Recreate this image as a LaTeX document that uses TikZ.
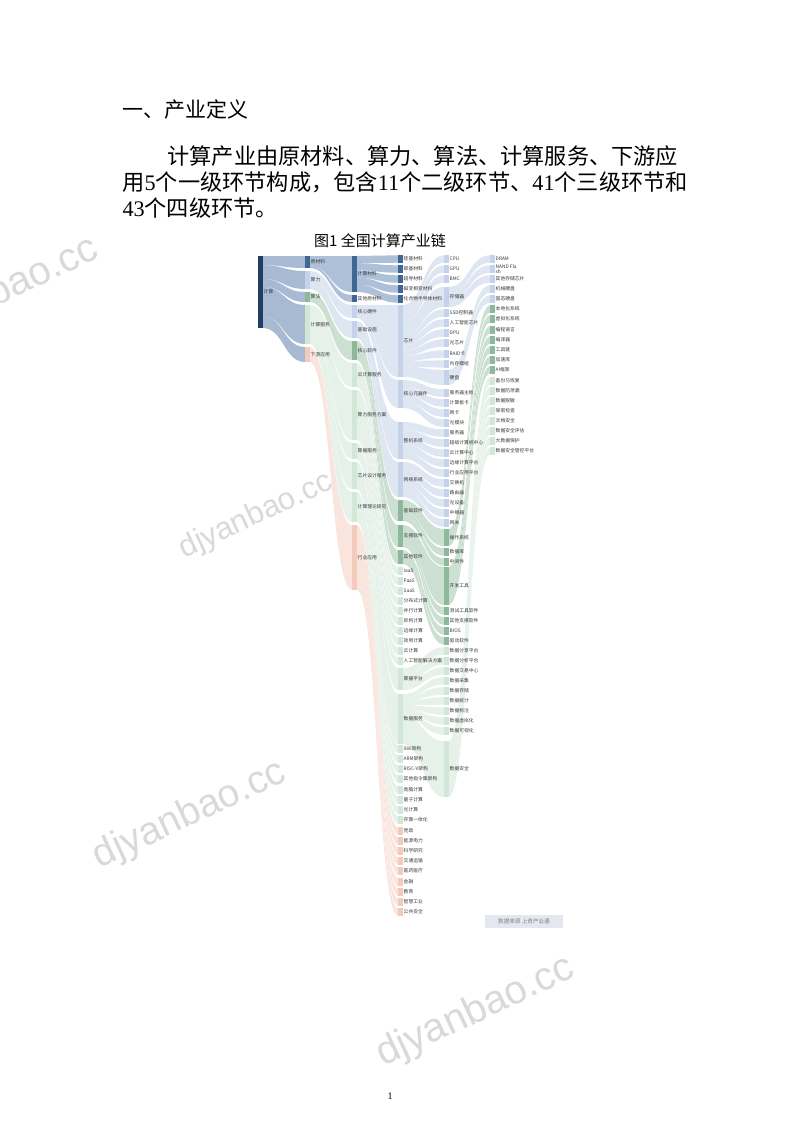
\documentclass[tikz,border=0pt]{standalone}
\usepackage{fontspec}
\setmainfont{Noto Sans CJK SC}
\newfontfamily\tnr{Liberation Serif}
\newfontfamily\wmfont{Liberation Sans}
\usetikzlibrary{positioning}

% node families and their link colours
\definecolor{rt}{HTML}{1F3E66}\definecolor{rtF}{HTML}{8CA3C3}
\definecolor{cl}{HTML}{3F6695}\definecolor{clF}{HTML}{93ABCA}
\definecolor{sl}{HTML}{C4D3E9}\definecolor{slF}{HTML}{D3DEEE}
\definecolor{sf}{HTML}{8DB89B}\definecolor{sfF}{HTML}{BBD6C3}
\definecolor{fw}{HTML}{D3E7D9}\definecolor{fwF}{HTML}{DDEDE2}
\definecolor{xy}{HTML}{F2CBBB}\definecolor{xyF}{HTML}{F7DDD2}
\definecolor{labelgray}{HTML}{3A3A3A}
\definecolor{wmgray}{HTML}{D9D9D9}
\definecolor{srcbg}{HTML}{E3E8F0}

\newcommand\bw{4.5}

% first pass: remember a node
\newcommand\storenode[6]{%
  \expandafter\def\csname NX#1\endcsname{#2}%
  \expandafter\def\csname NT#1\endcsname{#3}%
  \expandafter\def\csname NB#1\endcsname{#4}%
  \expandafter\def\csname NC#1\endcsname{#5}}
% second pass: bar and label
\newcommand\drawnode[6]{%
  \fill[fill=#5] ({#2},{#3}) rectangle ({#2+\bw},{#4});
  \node[lbl] (#1) at ({#2+\bw+0.6},{(#3+#4)/2}) {#6};}
\newcommand\leafnode[5]{\nd{#1}{#2}{(#3-3.7)}{(#3+3.7)}{#4}{#5}}

% links from one parent to its children
\newcommand\flowfan[2]{%
  \gdef\fsum{0}%
  \foreach \kid in {#2}{%
    \edef\kT{\csname NT\kid\endcsname}\edef\kB{\csname NB\kid\endcsname}%
    \pgfmathsetmacro\ftmp{\fsum+(\kB)-(\kT)}%
    \xdef\fsum{\ftmp}}%
  \edef\pX{\csname NX#1\endcsname}\edef\pT{\csname NT#1\endcsname}%
  \edef\pB{\csname NB#1\endcsname}\edef\pF{\csname NC#1\endcsname F}%
  \pgfmathsetmacro\fratio{((\pB)-(\pT))/\fsum}%
  \pgfmathsetmacro\fstart{\pT}%
  \xdef\foff{\fstart}%
  \foreach \kid in {#2}{%
    \edef\kT{\csname NT\kid\endcsname}\edef\kB{\csname NB\kid\endcsname}%
    \edef\kX{\csname NX\kid\endcsname}%
    \pgfmathsetmacro\fend{\foff+((\kB)-(\kT))*\fratio}%
    \pgfmathsetmacro\sX{\pX+\bw}%
    \pgfmathsetmacro\mX{(\sX+\kX)/2}%
    \fill[fill=\pF,link] ({\sX},{\foff}) .. controls ({\mX},{\foff}) and ({\mX},{\kT}) .. ({\kX},{\kT})
      -- ({\kX},{\kB}) .. controls ({\mX},{\kB}) and ({\mX},{\fend}) .. ({\sX},{\fend}) -- cycle;
    \xdef\foff{\fend}}%
}

\newcommand\nodedata{%
  % level 0 and 1
  \nd{js}{258}{256}{328}{rt}{计算}
  \nd{ycl}{305}{256}{268}{cl}{原材料}
  \nd{sl}{305}{271}{289}{sl}{算力}
  \nd{sf}{305}{292}{302}{sf}{算法}
  \nd{jsfw}{305}{305}{344}{fw}{计算服务}
  \nd{xyyy}{305}{347}{362}{xy}{下游应用}
  % level 2
  \nd{jscl}{352}{256}{292}{cl}{计算材料}
  \nd{qtycl}{352}{295}{302}{cl}{其他原材料}
  \nd{hxyj}{352}{305}{318}{sl}{核心硬件}
  \nd{jcss}{352}{321}{338}{sl}{基础设施}
  \nd{hxrj}{352}{341}{360}{sf}{核心软件}
  \nd{yjsfw}{352}{363}{387}{fw}{云计算服务}
  \nd{slfa}{352}{390}{440}{fw}{算力服务方案}
  \nd{sjfw}{352}{443}{459}{fw}{算据服务}
  \nd{xpsj}{352}{462}{489}{fw}{芯片设计服务}
  \nd{llyj}{352}{492}{522}{fw}{计算理论研究}
  \nd{hyyy}{352}{525}{590}{xy}{行业应用}
  % level 3
  \leafnode{gjcl}{398}{259}{cl}{硅基材料}
  \leafnode{tjcl}{398}{269}{cl}{碳基材料}
  \leafnode{cdcl}{398}{279}{cl}{超导材料}
  \leafnode{cbcl}{398}{289}{cl}{磁变相变材料}
  \leafnode{hhcl}{398}{299}{cl}{化合物半导体材料}
  \nd{xp}{398}{305}{377}{sl}{芯片}
  \nd{yqj}{398}{380}{408}{sl}{核心元器件}
  \nd{zjxt}{398}{422}{459}{sl}{整机系统}
  \nd{wlxt}{398}{462}{497}{sl}{网络系统}
  \nd{jcrj}{398}{500}{521}{sf}{基础软件}
  \nd{zcrj}{398}{525}{547}{sf}{支撑软件}
  \nd{qtrj}{398}{550}{564}{sf}{其他软件}
  \leafnode{iaas}{398}{571}{fw}{IaaS}
  \leafnode{paas}{398}{581}{fw}{PaaS}
  \leafnode{saas}{398}{591}{fw}{SaaS}
  \leafnode{fbs}{398}{601}{fw}{分布式计算}
  \leafnode{bx}{398}{611}{fw}{并行计算}
  \leafnode{yg}{398}{621}{fw}{异构计算}
  \leafnode{by}{398}{631}{fw}{边缘计算}
  \leafnode{xyjs}{398}{641}{fw}{效用计算}
  \leafnode{yjs}{398}{651}{fw}{云计算}
  \leafnode{rgzn}{398}{661}{fw}{人工智能解决方案}
  \nd{sjpt}{398}{668}{690}{fw}{算据平台}
  \nd{sjfwc}{398}{694}{744}{fw}{数据服务}
  \leafnode{x86}{398}{749}{fw}{X86架构}
  \leafnode{arm}{398}{759}{fw}{ARM架构}
  \leafnode{riscv}{398}{769}{fw}{RISC-V架构}
  \leafnode{qtzl}{398}{779}{fw}{其他指令集架构}
  \leafnode{ln}{398}{790}{fw}{类脑计算}
  \leafnode{lz}{398}{800}{fw}{量子计算}
  \leafnode{gjs}{398}{810}{fw}{光计算}
  \leafnode{scyt}{398}{820}{fw}{存算一体化}
  \leafnode{dz}{398}{831}{xy}{党政}
  \leafnode{nydl}{398}{841}{xy}{能源电力}
  \leafnode{kxyj}{398}{851}{xy}{科学研究}
  \leafnode{jtys}{398}{861}{xy}{交通运输}
  \leafnode{yyyl}{398}{871}{xy}{医药医疗}
  \leafnode{jr}{398}{882}{xy}{金融}
  \leafnode{jy}{398}{892}{xy}{教育}
  \leafnode{zhgy}{398}{902}{xy}{智慧工业}
  \leafnode{ggaq}{398}{912}{xy}{公共安全}
  % level 4
  \leafnode{cpu}{444}{259}{sl}{CPU}
  \leafnode{gpu}{444}{269}{sl}{GPU}
  \leafnode{bmc}{444}{279}{sl}{BMC}
  \nd{ccq}{444}{287}{307}{sl}{存储器}
  \leafnode{ssd}{444}{313}{sl}{SSD控制器}
  \leafnode{aixp}{444}{323}{sl}{人工智能芯片}
  \leafnode{dpu}{444}{333}{sl}{DPU}
  \leafnode{gxp}{444}{343}{sl}{光芯片}
  \leafnode{raid}{444}{354}{sl}{RAID卡}
  \leafnode{ncmz}{444}{364}{sl}{内存模组}
  \nd{yp}{444}{370}{385}{sl}{硬盘}
  \leafnode{fwqzb}{444}{393}{sl}{服务器主板}
  \leafnode{jsbk}{444}{403}{sl}{计算板卡}
  \leafnode{wk}{444}{413}{sl}{网卡}
  \leafnode{gmk}{444}{423}{sl}{光模块}
  \leafnode{fwq}{444}{433}{sl}{服务器}
  \leafnode{cjjs}{444}{443}{sl}{超级计算机中心}
  \leafnode{yjszx}{444}{453}{sl}{云计算中心}
  \leafnode{byjs}{444}{463}{sl}{边缘计算平台}
  \leafnode{hypt}{444}{473}{sl}{行业应用平台}
  \leafnode{jhj}{444}{483}{sl}{交换机}
  \leafnode{lyq}{444}{493}{sl}{路由器}
  \leafnode{gsb}{444}{503}{sl}{光设备}
  \leafnode{zjq}{444}{513}{sl}{中继器}
  \leafnode{wg}{444}{523}{sl}{网关}
  \nd{czxt}{444}{529}{546}{sf}{操作系统}
  \leafnode{sjk}{444}{552}{sf}{数据库}
  \leafnode{zjj}{444}{562}{sf}{中间件}
  \nd{kfgj}{444}{567}{605}{sf}{开发工具}
  \leafnode{csgj}{444}{611}{sf}{测试工具软件}
  \leafnode{qtzc}{444}{621}{sf}{其他支撑软件}
  \leafnode{bios}{444}{631}{sf}{BIOS}
  \leafnode{qdrj}{444}{641}{sf}{驱动软件}
  \leafnode{sjfx}{444}{651}{fw}{数据分享平台}
  \leafnode{sjfxpt}{444}{661}{fw}{数据分析平台}
  \leafnode{sjjy}{444}{671}{fw}{数据交易中心}
  \leafnode{sjcj}{444}{681}{fw}{数据采集}
  \leafnode{sjcc}{444}{691}{fw}{数据存储}
  \leafnode{sjtj}{444}{701}{fw}{数据统计}
  \leafnode{sjbz}{444}{711}{fw}{数据标注}
  \leafnode{sjxn}{444}{721}{fw}{数据虚拟化}
  \leafnode{sjks}{444}{731}{fw}{数据可视化}
  \nd{sjaq}{444}{741}{797}{fw}{数据安全}
  % level 5
  \leafnode{dram}{490}{259}{sl}{DRAM}
  \leafnode{nand}{490}{269}{sl}{NAND Fla\\sh}
  \leafnode{qtcc}{490}{279}{sl}{其他存储芯片}
  \leafnode{jxyp}{490}{289}{sl}{机械硬盘}
  \leafnode{gtyp}{490}{299}{sl}{固态硬盘}
  \leafnode{bdh}{490}{309}{sf}{本地化系统}
  \leafnode{xnh}{490}{319}{sf}{虚拟化系统}
  \leafnode{bcyy}{490}{330}{sf}{编程语言}
  \leafnode{byq}{490}{340}{sf}{编译器}
  \leafnode{gjl}{490}{350}{sf}{工具链}
  \leafnode{jsk}{490}{360}{sf}{加速库}
  \leafnode{aikj}{490}{370}{sf}{AI框架}
  \leafnode{bfhf}{490}{381}{fw}{备份与恢复}
  \leafnode{sjfxl}{490}{391}{fw}{数据防泄漏}
  \leafnode{sjtm}{490}{401}{fw}{数据脱敏}
  \leafnode{bmjc}{490}{411}{fw}{保密检查}
  \leafnode{wdaq}{490}{421}{fw}{文档安全}
  \leafnode{aqpg}{490}{431}{fw}{数据安全评估}
  \leafnode{dsjbh}{490}{441}{fw}{大数据保护}
  \leafnode{aqgk}{490}{451}{fw}{数据安全管控平台}
}

\begin{document}
\begin{tikzpicture}[x=1pt,y=-1pt,
  lbl/.style={anchor=west,inner sep=0.4pt,align=left,text=labelgray,font=\fontsize{4.8}{5.2}\selectfont},
  link/.style={opacity=.75},
  wm/.style={text=wmgray,font=\wmfont}]
\fill[white] (0,0) rectangle (800,1132);
\useasboundingbox (0,0) rectangle (800,1132);

% watermarks
\node[wm,rotate=25,font=\wmfont\fontsize{40}{40}\selectfont] (wm1) at (0,293) {djyanbao.cc};
\node[wm,rotate=25,font=\wmfont\fontsize{31}{31}\selectfont] (wm2) at (256,516) {djyanbao.cc};
\node[wm,rotate=25,font=\wmfont\fontsize{39}{39}\selectfont] (wm3) at (190,815) {djyanbao.cc};
\node[wm,rotate=25,font=\wmfont\fontsize{40}{40}\selectfont] (wm4) at (476,1012) {djyanbao.cc};

% text above the chart
\node[anchor=west,font=\fontsize{21}{21}\selectfont] (heading) at (119,110) {一、产业定义};
\node[anchor=west,font=\fontsize{22.2}{22}\selectfont] (para1) at (164,156) {计算产业由原材料、算力、算法、计算服务、下游应};
\node[anchor=west,font=\fontsize{22.2}{22}\selectfont] (para2) at (119,182) {用{\tnr 5}个一级环节构成，包含{\tnr 11}个二级环节、{\tnr 41}个三级环节和};
\node[anchor=west,font=\fontsize{22.2}{22}\selectfont] (para3) at (119,208) {{\tnr 43}个四级环节。};
\node[font=\fontsize{15}{15}\selectfont] (title) at (380,241) {图1 全国计算产业链};

% sankey
\let\nd\storenode \nodedata
\flowfan{js}{ycl,sl,sf,jsfw,xyyy}
\flowfan{ycl}{jscl,qtycl}
\flowfan{sl}{hxyj,jcss}
\flowfan{sf}{hxrj}
\flowfan{jsfw}{yjsfw,slfa,sjfw,xpsj,llyj}
\flowfan{xyyy}{hyyy}
\flowfan{jscl}{gjcl,tjcl,cdcl,cbcl,hhcl}
\flowfan{hxyj}{xp,yqj}
\flowfan{jcss}{zjxt,wlxt}
\flowfan{hxrj}{jcrj,zcrj,qtrj}
\flowfan{yjsfw}{iaas,paas,saas}
\flowfan{slfa}{fbs,bx,yg,by,xyjs,yjs,rgzn}
\flowfan{sjfw}{sjpt,sjfwc}
\flowfan{xpsj}{x86,arm,riscv,qtzl}
\flowfan{llyj}{ln,lz,gjs,scyt}
\flowfan{hyyy}{dz,nydl,kxyj,jtys,yyyl,jr,jy,zhgy,ggaq}
\flowfan{xp}{cpu,gpu,bmc,ccq,ssd,aixp,dpu,gxp,raid,ncmz,yp}
\flowfan{yqj}{fwqzb,jsbk,wk,gmk}
\flowfan{zjxt}{fwq,cjjs,yjszx,byjs,hypt}
\flowfan{wlxt}{jhj,lyq,gsb,zjq,wg}
\flowfan{jcrj}{czxt,sjk,zjj}
\flowfan{zcrj}{kfgj,csgj,qtzc}
\flowfan{qtrj}{bios,qdrj}
\flowfan{sjpt}{sjfx,sjfxpt,sjjy}
\flowfan{sjfwc}{sjcj,sjcc,sjtj,sjbz,sjxn,sjks,sjaq}
\flowfan{ccq}{dram,nand,qtcc}
\flowfan{yp}{jxyp,gtyp}
\flowfan{czxt}{bdh,xnh}
\flowfan{kfgj}{bcyy,byq,gjl,jsk,aikj}
\flowfan{sjaq}{bfhf,sjfxl,sjtm,bmjc,wdaq,aqpg,dsjbh,aqgk}
\let\nd\drawnode \nodedata

\node[fill=srcbg,text=gray,inner sep=1pt,minimum width=78,minimum height=13,
  font=\fontsize{5.6}{6}\selectfont] (source) at (524,921.5) {数据来源 上奇产业通};
\node[font=\tnr\fontsize{10}{10}\selectfont] (pagenum) at (390,1096) {1};
\end{tikzpicture}
\end{document}
